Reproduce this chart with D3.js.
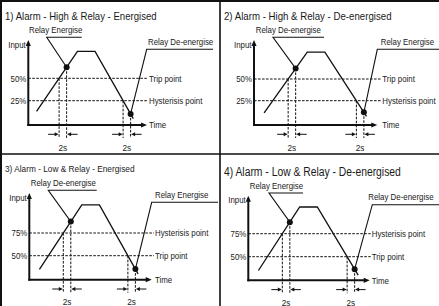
<!DOCTYPE html>
<html>
<head>
<meta charset="utf-8">
<script src="https://d3js.org/d3.v7.min.js"></script>
<style>
  body{margin:0;background:#fff}
  text{font-family:"Liberation Sans","Arial",sans-serif;fill:#1a1a1a}
</style>
</head>
<body>
<script>
// panel titles and the two level lines of each panel (upper, lower)
var titles = ["1) Alarm - High & Relay - Energised", "2) Alarm - High & Relay - De-energised",
              "3) Alarm - Low & Relay - Energised", "4) Alarm - Low & Relay - De-energised"];
var levelPct = [[50, 25], [50, 25], [75, 50], [75, 50]];
var levelNames = [["Trip point", "Hysterisis point"], ["Trip point", "Hysterisis point"],
                  ["Hysterisis point", "Trip point"], ["Hysterisis point", "Trip point"]];
var riseEvent = ["Relay Energise", "Relay De-energise", "Relay De-energise", "Relay Energise"];
var fallEvent = ["Relay De-energise", "Relay Energise", "Relay Energise", "Relay De-energise"];
var delaySec = 2;
// input signal [seconds, % of input]
var signals = [
  [[2.2, 13], [13.1, 80], [17.8, 80], [28, 5]],
  [[2.7, 11], [14.2, 81], [18.9, 81], [30, 7]],
  [[2.7, 35], [14, 106], [18.7, 106], [29, 30]],
  [[2.7, 35], [13.7, 104], [18.4, 104], [29.3, 30]]
];

// where each sketch sits on the sheet
var layout = [
  {x:0, y:0, titleY:20, titleSize:11.4, axisX:28.3, axisY:125, axisTop:40, axisEnd:147, hiY:78.3, loY:100.7, colX:149, inputY:47.7,
   rise:{tx:29, ty:33, ly:37.3, x0:46.7, x1:81.7}, fall:{tx:148, ty:45, ly:49.3, x0:146.7, x1:213}},
  {x:219, y:0, titleY:20, titleSize:11.5, axisX:35, axisY:125, axisTop:40, axisEnd:158.3, hiY:79, loY:100.7, colX:163.3, inputY:47.7,
   rise:{tx:36.7, ty:33.3, ly:37.3, x0:54, x1:105}, fall:{tx:161.7, ty:45, ly:49.3, x0:158.3, x1:220}},
  {x:0, y:153, titleY:19.3, titleSize:9.9, axisX:29.3, axisY:126.7, axisTop:40, axisEnd:151.7, hiY:80, loY:102.7, colX:155, inputY:48.3,
   rise:{tx:30.7, ty:33.3, ly:37.3, x0:48.3, x1:96.7}, fall:{tx:155, ty:45, ly:49.3, x0:151.7, x1:218}},
  {x:219, y:153, titleY:22.7, titleSize:12.3, axisX:29.3, axisY:127.3, axisTop:42.7, axisEnd:150.7, hiY:80.7, loY:103.7, colX:152.7, inputY:50,
   rise:{tx:30.7, ty:35.7, ly:40, x0:50, x1:84}, fall:{tx:149.3, ty:46.7, ly:51.7, x0:153.3, x1:220}}
];

var W = 439, H = 306, ink = "#111", squeeze = 0.84, labelSize = 9.4;

var svg = d3.select("body").append("svg").attr("width", W).attr("height", H);

//sheet frame and dividers
svg.append("line").attr("x1", 0).attr("x2", W).attr("y1", 1).attr("y2", 1).attr("stroke", ink).attr("stroke-width", 2);
svg.append("line").attr("x1", 1).attr("x2", 1).attr("y1", 0).attr("y2", H).attr("stroke", ink).attr("stroke-width", 2);
svg.append("line").attr("x1", 220).attr("x2", 220).attr("y1", 0).attr("y2", H).attr("stroke", ink).attr("stroke-width", 1.6);
svg.append("line").attr("x1", 0).attr("x2", W).attr("y1", 154).attr("y2", 154).attr("stroke", ink).attr("stroke-width", 1.6);

function valueAt(sig, t){
  for(var i=0;i<sig.length-1;i++){
    var a = sig[i], b = sig[i+1];
    if(t >= a[0] && t <= b[0]) return a[1] + (t-a[0])/(b[0]-a[0])*(b[1]-a[1]);
  }
  return sig[sig.length-1][1];
}
function crossing(sig, level, up){
  for(var i=0;i<sig.length-1;i++){
    var a = sig[i], b = sig[i+1];
    if((up && a[1] < level && b[1] >= level) || (!up && a[1] > level && b[1] <= level))
      return a[0] + (level-a[1])/(b[1]-a[1])*(b[0]-a[0]);
  }
}
function head(g, x, y, angle, len, half){
  g.append("path").attr("d", "M0,0L"+(-len)+","+(-half)+"L"+(-len)+","+half+"Z")
    .attr("transform", "translate("+x+","+y+") rotate("+angle+")").attr("fill", ink);
}
function label(g, txt, x, y, size, anchor){
  return g.append("text").attr("x", x).attr("y", y).attr("font-size", size)
    .attr("text-anchor", anchor || "start").text(txt);
}

layout.forEach(function(L, p){
  var g = svg.append("g").attr("transform", "translate("+L.x+","+L.y+")");
  var sig = signals[p], lv = levelPct[p];
  var x = d3.scaleLinear().domain([0, 32]).range([L.axisX, L.axisX + 120]);
  var y = d3.scaleLinear().domain([lv[1], lv[0]]).range([L.loY, L.hiY]);

  label(g, titles[p], 5, L.titleY, L.titleSize);

  // axes with arrow heads
  g.append("line").attr("x1", L.axisX).attr("x2", L.axisX).attr("y1", L.axisY+1).attr("y2", L.axisTop+3)
    .attr("stroke", ink).attr("stroke-width", 2);
  head(g, L.axisX, L.axisTop, -90, 6, 2.6);
  g.append("line").attr("x1", L.axisX-1).attr("x2", L.axisEnd-3).attr("y1", L.axisY).attr("y2", L.axisY)
    .attr("stroke", ink).attr("stroke-width", 2);
  head(g, L.axisEnd, L.axisY, 0, 6, 2.6);
  label(g, "Input", L.axisX-2.5, L.inputY, labelSize, "end");
  label(g, "Time", L.colX, L.axisY, labelSize).attr("dy", "0.35em");

  // level lines
  lv.forEach(function(v, k){
    g.append("line").attr("x1", L.axisX).attr("x2", L.colX-1).attr("y1", y(v)).attr("y2", y(v))
      .attr("stroke", ink).attr("stroke-width", 1).attr("stroke-dasharray", "2.6,1.4");
    label(g, v+"%", L.axisX-2, y(v), labelSize, "end").attr("dy", "0.35em");
    label(g, levelNames[p][k], L.colX, y(v), labelSize).attr("dy", "0.35em");
  });

  // input signal
  g.append("path").datum(sig)
    .attr("d", d3.line().x(function(d){return x(d[0]);}).y(function(d){return y(d[1]);}))
    .attr("fill", "none").attr("stroke", ink).attr("stroke-width", 1.3);

  // relay events: crossing + delay
  [[lv[0], true, riseEvent[p], L.rise], [lv[1], false, fallEvent[p], L.fall]].forEach(function(ev){
    var tc = crossing(sig, ev[0], ev[1]), td = tc + delaySec;
    var xc = x(tc), xd = x(td), yd = y(valueAt(sig, td)), bot = L.axisY + 13, ay = L.axisY + 9.3;
    g.append("line").attr("x1", xc).attr("x2", xc).attr("y1", y(ev[0])).attr("y2", bot)
      .attr("stroke", ink).attr("stroke-width", 1).attr("stroke-dasharray", "2.6,1.4");
    g.append("line").attr("x1", xd).attr("x2", xd).attr("y1", yd).attr("y2", bot)
      .attr("stroke", ink).attr("stroke-width", 1).attr("stroke-dasharray", "2.6,1.4");
    g.append("line").attr("x1", xc-11).attr("x2", xc-3).attr("y1", ay).attr("y2", ay).attr("stroke", ink).attr("stroke-width", 1);
    head(g, xc-0.5, ay, 0, 4, 2);
    g.append("line").attr("x1", xd+11).attr("x2", xd+3).attr("y1", ay).attr("y2", ay).attr("stroke", ink).attr("stroke-width", 1);
    head(g, xd+0.5, ay, 180, 4, 2);
    label(g, delaySec+"s", (xc+xd)/2, L.axisY+25.5, labelSize+0.4, "middle");
    g.append("circle").attr("cx", xd).attr("cy", yd).attr("r", 3).attr("fill", ink);
    var a = ev[3];
    g.append("path").attr("d", "M"+a.x1+","+a.ly+"L"+a.x0+","+a.ly+"L"+xd+","+yd)
      .attr("fill", "none").attr("stroke", ink).attr("stroke-width", 1.1);
    label(g, ev[2], a.tx, a.ty, labelSize);
  });
});

// narrow lettering like the sketch
svg.selectAll("text").each(function(){
  var len = this.getComputedTextLength();
  d3.select(this).attr("textLength", len*squeeze).attr("lengthAdjust", "spacingAndGlyphs");
});
</script>
</body>
</html>
